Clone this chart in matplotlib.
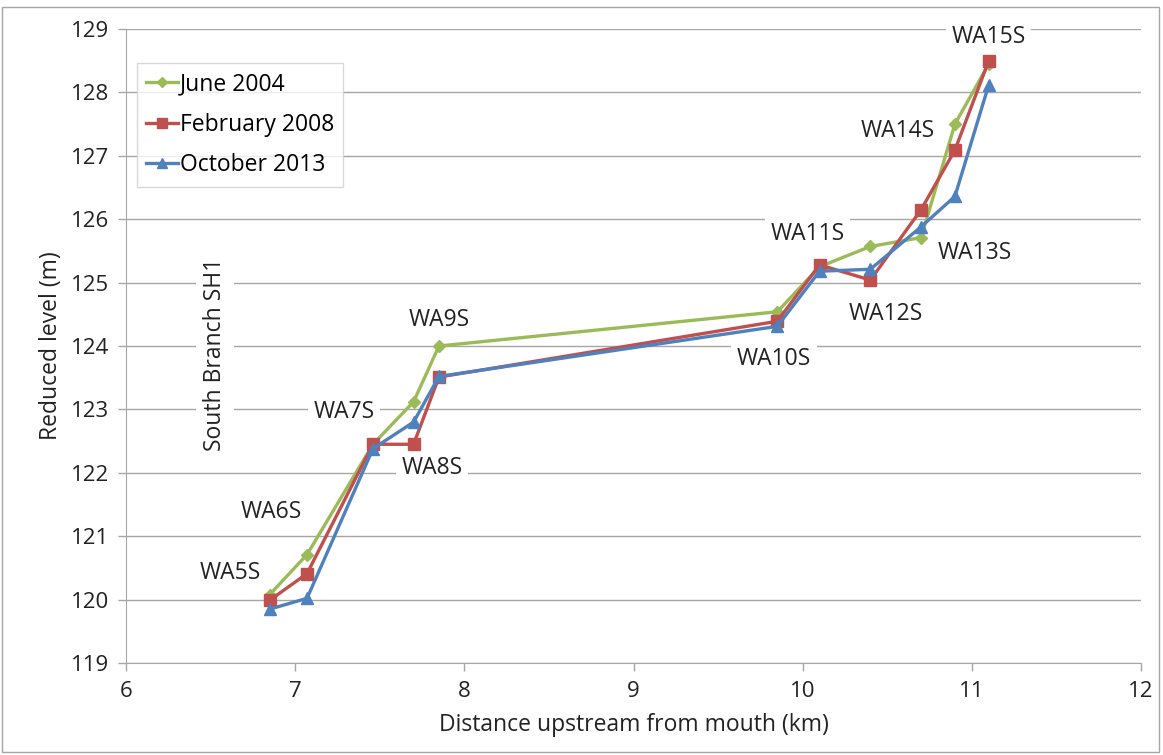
import matplotlib
matplotlib.use("Agg")
import matplotlib.pyplot as plt
from matplotlib.patches import Rectangle

plt.rcParams["font.family"] = ["Open Sans", "DejaVu Sans"]

# distance upstream (km) of each survey site
distance_km = [6.85, 7.07, 7.46, 7.70, 7.85, 9.85, 10.10, 10.40, 10.70, 10.90, 11.10]
site_names = ["WA5S", "WA6S", "WA7S", "WA8S", "WA9S", "WA10S",
              "WA11S", "WA12S", "WA13S", "WA14S", "WA15S"]

june_2004 = [120.08, 120.71, 122.45, 123.12, 124.00, 124.54,
             125.25, 125.57, 125.71, 127.50, 128.45]
feb_2008 = [119.99, 120.41, 122.45, 122.45, 123.51, 124.39,
            125.28, 125.04, 126.15, 127.09, 128.50]
oct_2013 = [119.85, 120.02, 122.38, 122.80, 123.52, 124.31,
            125.18, 125.21, 125.88, 126.36, 128.12]

# where each site label sits (data coords)
label_x = [6.615, 6.86, 7.29, 7.81, 7.85, 9.83, 10.03, 10.49, 11.02, 10.56, 11.10]
label_y = [120.42, 121.38, 122.96, 122.08, 124.41, 123.80, 125.77, 124.50, 125.47, 127.39, 128.87]

TXT = "#222222"
GRID = "#A6A6A6"

fig = plt.figure(figsize=(11.63, 7.55), dpi=100)
ax = fig.add_axes([126 / 1163, 1 - 663 / 755, (1141 - 126) / 1163, (663 - 29) / 755])

series = [
    ("June 2004", june_2004, "#9BBB59", "D", 6),
    ("February 2008", feb_2008, "#C0504D", "s", 8.5),
    ("October 2013", oct_2013, "#4F81BD", "^", 8.5),
]
for name, vals, color, marker, ms in series:
    ax.plot(distance_km, vals, color=color, marker=marker, markersize=ms,
            linewidth=2.4, label=name, zorder=3)

for name, x, y in zip(site_names, label_x, label_y):
    ax.text(x, y, name, ha="center", va="center", fontsize=16.5, color=TXT,
            zorder=2, bbox=dict(facecolor="white", edgecolor="none", pad=4))

ax.text(6.526, 123.87, "South Branch SH1", rotation=90, ha="center", va="center",
        fontsize=16.5, color=TXT, zorder=2,
        bbox=dict(facecolor="white", edgecolor="none", pad=5))

ax.set_xlim(6, 12)
ax.set_ylim(119, 129)
ax.set_xticks(range(6, 13))
ax.set_yticks(range(119, 130))
ax.yaxis.grid(True, color=GRID, linewidth=1)
ax.set_axisbelow(True)
for side in ["top", "right"]:
    ax.spines[side].set_visible(False)
for side in ["left", "bottom"]:
    ax.spines[side].set_color(GRID)
ax.tick_params(axis="both", colors=GRID, labelcolor=TXT,
               labelsize=16, length=6, width=1)
ax.tick_params(axis="y", pad=6)
ax.tick_params(axis="x", pad=7)

ax.set_xlabel("Distance upstream from mouth (km)", fontsize=16.5, color=TXT, labelpad=8)
ax.set_ylabel("Reduced level (m)", fontsize=16.5, color=TXT, labelpad=6)

leg = ax.legend(loc="upper left", bbox_to_anchor=(0.011, 0.946), fontsize=16.5,
                frameon=True, fancybox=False, borderpad=0.4, handlelength=1.4,
                handletextpad=0.05, labelspacing=0.72, borderaxespad=0,
                markerscale=0.9)
leg.get_frame().set_edgecolor("#D0D0D0")
leg.get_frame().set_linewidth(1)

fig.patches.append(Rectangle((2 / 1163, 3 / 755), 1157 / 1163, 745 / 755,
                             transform=fig.transFigure, fill=False,
                             edgecolor=GRID, linewidth=1))

fig.savefig("out.png", dpi=100)
